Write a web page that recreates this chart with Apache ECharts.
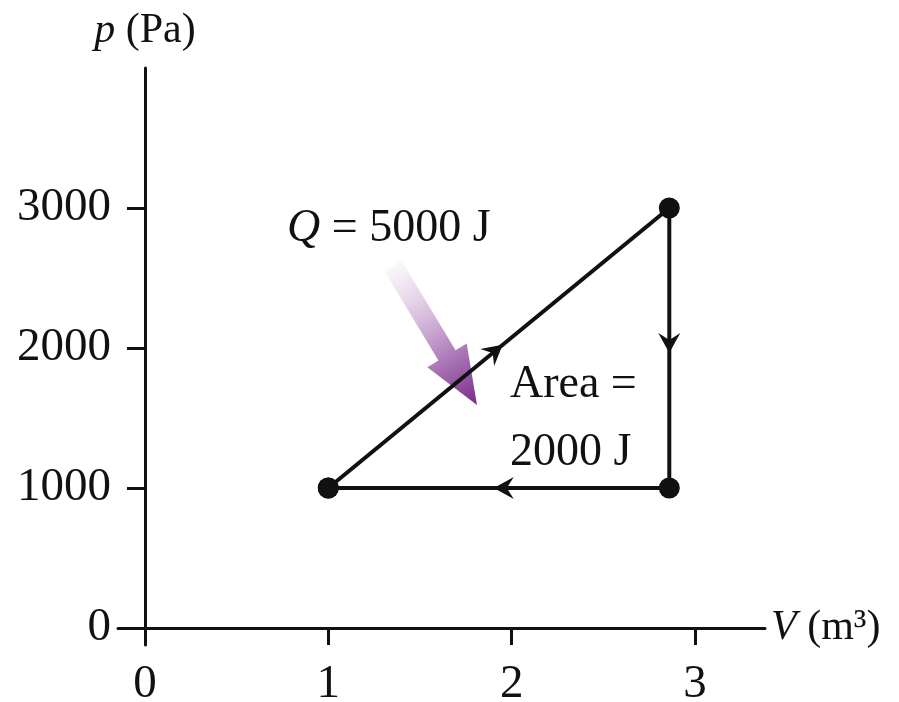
<!DOCTYPE html>
<html>
<head>
<meta charset="utf-8">
<script src="https://cdn.jsdelivr.net/npm/echarts@6/dist/echarts.min.js"></script>
<style>
  html, body { margin: 0; background: #fff; }
  #chart { width: 899px; height: 702px; }
</style>
</head>
<body>
<div id="chart"></div>
<script>
// cycle corners (V in m^3, p in Pa), closed loop
const cycleV = [1, 2.86, 2.86, 1];
const cycleP = [1000, 3000, 1000, 1000];
const xTicks = [0, 1, 2, 3];
const yTicks = [0, 1000, 2000, 3000];
// heat arrow Q: tail (V, p) -> tip (V, p)
const heatTail = [1.353, 2586];
const heatTip = [1.811, 1593];

const serif = "'Liberation Serif', 'DejaVu Serif', serif";
const ink = '#111';

const loopData = cycleV.map((v, i) => [v, cycleP[i]]);
const segments = [];
for (let i = 0; i < loopData.length - 1; i++) {
    segments.push([loopData[i][0], loopData[i][1], loopData[i + 1][0], loopData[i + 1][1]]);
}

const chart = echarts.init(document.getElementById('chart'));

// small direction arrowhead at the middle of each segment
function renderArrowHead(params, api) {
    const a = api.coord([api.value(0), api.value(1)]);
    const b = api.coord([api.value(2), api.value(3)]);
    const dx = b[0] - a[0], dy = b[1] - a[1];
    const len = Math.hypot(dx, dy);
    const ux = dx / len, uy = dy / len;
    const nx = -uy, ny = ux;
    const tip = [(a[0] + b[0]) / 2 + ux * 5, (a[1] + b[1]) / 2 + uy * 5];
    const L = 20, W = 11, N = 13;
    const pts = [
        tip,
        [tip[0] - ux * L + nx * W, tip[1] - uy * L + ny * W],
        [tip[0] - ux * N, tip[1] - uy * N],
        [tip[0] - ux * L - nx * W, tip[1] - uy * L - ny * W]
    ];
    return { type: 'polygon', shape: { points: pts }, style: { fill: ink } };
}

// big fading purple arrow for the heat input
function renderHeatArrow(params, api) {
    const a = api.coord([api.value(0), api.value(1)]);
    const b = api.coord([api.value(2), api.value(3)]);
    const dx = b[0] - a[0], dy = b[1] - a[1];
    const len = Math.hypot(dx, dy);
    const ux = dx / len, uy = dy / len;
    const nx = -uy, ny = ux;
    const hw = 10, HW = 23, HL = 58;
    const base = [b[0] - ux * HL, b[1] - uy * HL];
    const pts = [
        [a[0] + nx * hw, a[1] + ny * hw],
        [base[0] + nx * hw, base[1] + ny * hw],
        [base[0] + nx * HW, base[1] + ny * HW],
        b,
        [base[0] - nx * HW, base[1] - ny * HW],
        [base[0] - nx * hw, base[1] - ny * hw],
        [a[0] - nx * hw, a[1] - ny * hw]
    ];
    return {
        type: 'polygon',
        shape: { points: pts },
        style: {
            fill: new echarts.graphic.LinearGradient(a[0], a[1], b[0], b[1], [
                { offset: 0, color: 'rgba(246,240,248,0.6)' },
                { offset: 0.5, color: '#c4a0cd' },
                { offset: 1, color: '#7a2a8a' }
            ], true)
        }
    };
}

const option = {
    backgroundColor: '#fff',
    animation: false,
    grid: { left: 118, top: 68, width: 647, height: 577, containLabel: false, outerBoundsMode: 'none' },
    xAxis: {
        type: 'value',
        min: -0.147,
        max: 3.382,
        splitLine: { show: false },
        axisLine: { onZero: true, lineStyle: { color: ink, width: 3 } },
        axisTick: { show: true, length: 17, customValues: xTicks, lineStyle: { color: ink, width: 3 } },
        axisLabel: {
            customValues: xTicks, margin: 16,
            formatter: v => String(v),
            fontFamily: serif, fontSize: 47, color: ink
        },
        name: '{i|V} (m³)',
        nameLocation: 'end',
        nameGap: 6,
        nameTextStyle: {
            fontFamily: serif, fontSize: 42, color: ink, verticalAlign: 'middle', align: 'left',
            rich: {
                i: { fontFamily: serif, fontSize: 42, fontStyle: 'italic', color: ink }
            }
        }
    },
    yAxis: {
        type: 'value',
        min: -121,
        max: 4000,
        splitLine: { show: false },
        axisLine: { onZero: true, lineStyle: { color: ink, width: 3 } },
        axisTick: { show: true, length: 18, customValues: yTicks, lineStyle: { color: ink, width: 3 } },
        axisLabel: {
            customValues: yTicks, margin: 7,
            formatter: v => String(v),
            fontFamily: serif, fontSize: 47, color: ink
        },
        name: '{i|p} (Pa)',
        nameLocation: 'end',
        nameGap: 16,
        nameTextStyle: {
            fontFamily: serif, fontSize: 42, color: ink, align: 'center',
            rich: {
                i: { fontFamily: serif, fontSize: 42, fontStyle: 'italic', color: ink }
            }
        }
    },
    series: [
        {
            type: 'custom',
            renderItem: renderHeatArrow,
            encode: { x: [0, 2], y: [1, 3] },
            z: 1,
            data: [[heatTail[0], heatTail[1], heatTip[0], heatTip[1]]]
        },
        {
            type: 'line',
            data: loopData,
            symbol: 'circle',
            symbolSize: 21,
            itemStyle: { color: ink },
            lineStyle: { color: ink, width: 4 },
            z: 3
        },
        {
            type: 'custom',
            renderItem: renderArrowHead,
            encode: { x: [0, 2], y: [1, 3] },
            z: 4,
            data: segments
        }
    ],
    graphic: [
        {
            type: 'text', left: 287, top: 206,
            style: {
                text: '{i|Q} = 5000 J',
                fontFamily: serif, fontSize: 46, fill: ink,
                rich: { i: { fontFamily: serif, fontSize: 46, fontStyle: 'italic', fill: ink } }
            }
        },
        {
            type: 'text', left: 510, top: 362,
            style: { text: 'Area =', fontFamily: serif, fontSize: 46, fill: ink }
        },
        {
            type: 'text', left: 510, top: 430,
            style: { text: '2000 J', fontFamily: serif, fontSize: 46, fill: ink }
        }
    ]
};

chart.setOption(option);
window.addEventListener('resize', () => chart.resize());
</script>
</body>
</html>
